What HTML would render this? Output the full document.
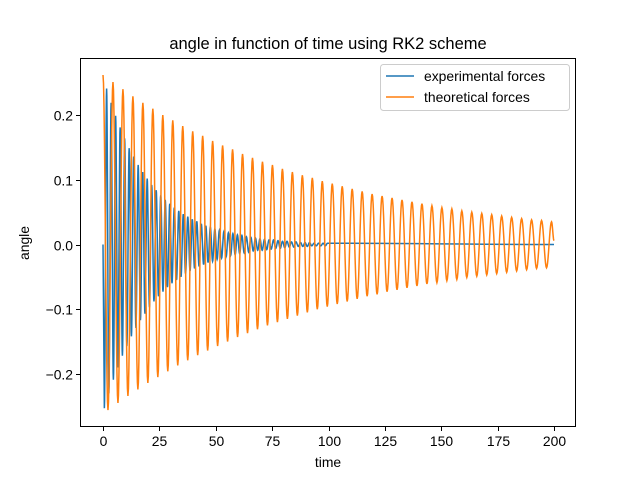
<!DOCTYPE html>
<html><head><meta charset="utf-8"><style>
body{margin:0;background:#fff}
svg{display:block;font-family:"Liberation Sans","DejaVu Sans",sans-serif}
</style></head><body>
<svg id="chart" width="640" height="480" viewBox="0 0 640 480">
<rect x="0" y="0" width="640" height="480" fill="#fff"/>
<text x="328" y="49" font-size="16.5" text-anchor="middle" fill="#000">angle in function of time using RK2 scheme</text>
<g id="plot"></g>
<g id="axes"></g>
<text x="328" y="467" font-size="13.9" text-anchor="middle">time</text>
<text transform="translate(29,243) rotate(-90)" font-size="13.9" text-anchor="middle">angle</text>
<g>
<rect x="380.5" y="64.5" width="189" height="46" rx="3" fill="#fff" fill-opacity="0.8" stroke="#ccc"/>
<line x1="386" y1="76" x2="414" y2="76" stroke="#1f77b4" stroke-width="1.5"/>
<text x="424" y="81" font-size="13.9">experimental forces</text>
<line x1="386" y1="97" x2="414" y2="97" stroke="#ff7f0e" stroke-width="1.5"/>
<text x="424" y="102" font-size="13.9">theoretical forces</text>
</g>
</svg>
<script>
const xTicks=[0,25,50,75,100,125,150,175,200];
const yTicks=[-0.2,-0.1,0.0,0.1,0.2];
const yTickLabels=["\u22120.2","\u22120.1","0.0","0.1","0.2"];
// orange: extrema magnitudes, alternating +,-, one every half period
const orangeStart=0;
const orangeHalfPeriod=2.21;
const orangeExtrema=[.262,.256,.251,.245,.240,.234,.229,.224,.219,.214,.210,.205,.200,.196,.192,.187,.183,.179,.175,.171,.168,.164,.160,.157,.153,.150,.147,.143,.140,.137,.134,.131,.128,.125,.123,.120,.117,.115,.112,.110,.107,.105,.103,.100,.098,.096,.094,.092,.090,.088,.086,.084,.082,.080,.078,.077,.075,.073,.072,.070,.069,.067,.066,.064,.063,.061,.060,.059,.057,.056,.055,.054,.052,.051,.050,.049,.048,.047,.046,.045,.044,.043,.042,.041,.040,.039,.038,.037,.037,.036,.035];
const orangeEnd=[200,0.006];
// blue: extrema magnitudes, alternating -,+, one every half period
const blueStart=0.6;
const blueHalfPeriod=1.0;
const blueExtrema=[.253,.241,.230,.219,.209,.199,.190,.181,.172,.164,.157,.149,.142,.136,.129,.123,.117,.112,.107,.102,.097,.092,.088,.084,.080,.076,.073,.069,.066,.063,.060,.057,.055,.052,.050,.047,.045,.043,.041,.039,.037,.036,.034,.032,.031,.029,.028,.027,.026,.024,.023,.022,.021,.020,.019,.018,.017,.017,.016,.015,.014,.014,.013,.012,.012,.011,.010,.010,.009,.009,.009,.008,.008,.007,.007,.007,.006,.006,.006,.005,.005,.005,.004,.004,.004,.004,.003,.003,.003,.003,.003,.003,.002,.002,.002,.002,.002,.002,.002,.002];
const blueEnd=[200,0];

const X0=80,X1=576,Y0=58,Y1=427;
const xs=t=>103+t*(554-103)/200;
const ys=v=>244.5-v*647;
const NS="http://www.w3.org/2000/svg";
const plot=document.getElementById('plot'),axes=document.getElementById('axes');

function buildPath(start,half,ext,firstSign,end){
  const pts=[];
  if(start>0){pts.push([0,0]);}
  let prev=null;
  ext.forEach((a,i)=>{
    const t=start+i*half, v=(i%2===0?firstSign:-firstSign)*a;
    if(prev){
      for(let s=1;s<=10;s++){
        const f=s/10, w=(1-Math.cos(Math.PI*f))/2;
        pts.push([prev[0]+(t-prev[0])*f, prev[1]+(v-prev[1])*w]);
      }
    } else pts.push([t,v]);
    prev=[t,v];
  });
  // tail
  const tl=end[0]-prev[0];
  for(let s=1;s<=10;s++){const f=s/10,w=(1-Math.cos(Math.PI*f))/2;pts.push([prev[0]+tl*f,prev[1]+(end[1]-prev[1])*w]);}
  return 'M'+pts.map(p=>xs(p[0]).toFixed(2)+','+ys(p[1]).toFixed(2)).join('L');
}
const pb=document.createElementNS(NS,'path');
pb.setAttribute('d',buildPath(blueStart,blueHalfPeriod,blueExtrema,-1,blueEnd));
pb.setAttribute('fill','none');pb.setAttribute('stroke','#1f77b4');pb.setAttribute('stroke-width','1.5');


plot.appendChild(pb);
const po=document.createElementNS(NS,'path');
po.setAttribute('d',buildPath(orangeStart,orangeHalfPeriod,orangeExtrema,1,orangeEnd));
po.setAttribute('fill','none');po.setAttribute('stroke','#ff7f0e');po.setAttribute('stroke-width','1.5');


plot.appendChild(po);

const frame=document.createElementNS(NS,'rect');
frame.setAttribute('x',X0+0.5);frame.setAttribute('y',Y0+0.5);frame.setAttribute('width',X1-X0-1);frame.setAttribute('height',Y1-Y0-1);
frame.setAttribute('fill','none');frame.setAttribute('stroke','#000');frame.setAttribute('stroke-width','1');


axes.appendChild(frame);
xTicks.forEach(t=>{
  const x=Math.round(xs(t))+0.5;
  const l=document.createElementNS(NS,'line');
  l.setAttribute('x1',x);l.setAttribute('x2',x);l.setAttribute('y1',Y1);l.setAttribute('y2',Y1+4);l.setAttribute('stroke','#000');
  
  
  axes.appendChild(l);
  const tx=document.createElementNS(NS,'text');
  tx.setAttribute('x',x);tx.setAttribute('y',Y1+19);tx.setAttribute('font-size','13.9');tx.setAttribute('text-anchor','middle');
  tx.textContent=String(t);
  
  
  axes.appendChild(tx);
});
yTicks.forEach((v,i)=>{
  const y=Math.round(ys(v))+0.5;
  const l=document.createElementNS(NS,'line');
  l.setAttribute('x1',X0-4);l.setAttribute('x2',X0);l.setAttribute('y1',y);l.setAttribute('y2',y);l.setAttribute('stroke','#000');
  
  
  axes.appendChild(l);
  const tx=document.createElementNS(NS,'text');
  tx.setAttribute('x',X0-7);tx.setAttribute('y',y+5);tx.setAttribute('font-size','13.9');tx.setAttribute('text-anchor','end');
  tx.textContent=yTickLabels[i];
  
  
  axes.appendChild(tx);
});
</script>
</body></html>
